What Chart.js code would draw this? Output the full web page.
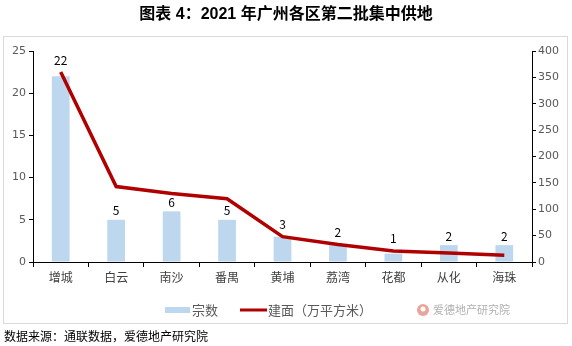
<!DOCTYPE html>
<html>
<head>
<meta charset="utf-8">
<script src="https://cdn.jsdelivr.net/npm/chart.js@4"></script>
<style>
  html, body { margin: 0; padding: 0; background: #fff; }
  #wrap { width: 572px; height: 346px; }
</style>
</head>
<body>
<div id="wrap"><canvas id="c" width="572" height="346"></canvas></div>
<script>
const districts = ['增城', '白云', '南沙', '番禺', '黄埔', '荔湾', '花都', '从化', '海珠'];
const counts = [22, 5, 6, 5, 3, 2, 1, 2, 2];
const areas = [360, 143, 130, 120, 48, 33, 21, 17, 13];

const titleText = '图表 4：2021 年广州各区第二批集中供地';
const sourceText = '数据来源：通联数据，爱德地产研究院';
const watermarkText = '爱德地产研究院';

const CJK = "'Noto Sans CJK SC', 'Noto Sans', sans-serif";

// frame, title, footnote, legend, bar labels
const decor = {
    id: 'decor',
    beforeDraw(chart) {
        const c = chart.ctx;
        c.save();
        c.fillStyle = '#fff';
        c.fillRect(0, 0, chart.width, chart.height);
        c.strokeStyle = '#d9d9d9';
        c.lineWidth = 1;
        c.strokeRect(3.5, 36.5, 564, 287);
        c.restore();
    },
    afterDraw(chart) {
        const c = chart.ctx;
        c.save();
        // title
        c.fillStyle = '#000';
        c.font = "bold 16px 'Liberation Sans', " + CJK;
        c.textAlign = 'center';
        c.textBaseline = 'middle';
        c.fillText(titleText, 286, 15);
        // source
        c.font = '12px ' + CJK;
        c.textAlign = 'left';
        c.fillText(sourceText, 4, 336);
        // legend
        c.fillStyle = '#bdd7ee';
        c.fillRect(165, 307, 25, 6);
        c.fillStyle = '#595959';
        c.font = '13px ' + CJK;
        c.fillText('宗数', 192, 310);
        c.strokeStyle = '#b00000';
        c.lineWidth = 3;
        c.beginPath();
        c.moveTo(240, 310);
        c.lineTo(267, 310);
        c.stroke();
        c.fillText('建面（万平方米）', 268, 310);
        // watermark
        c.fillStyle = '#e9a49c';
        c.beginPath();
        c.arc(423, 310, 6, 0, Math.PI * 2);
        c.fill();
        c.fillStyle = '#fff';
        c.beginPath();
        c.arc(423, 309, 2.5, 0, Math.PI * 2);
        c.fill();
        c.fillStyle = '#b0b0b0';
        c.font = '11px ' + CJK;
        c.fillText(watermarkText, 433, 310);
        // bar value labels, lifted over the line where it crosses them
        const bars = chart.getDatasetMeta(0).data;
        const pts = chart.getDatasetMeta(1).data;
        c.fillStyle = '#000';
        c.font = '12px ' + CJK;
        c.textAlign = 'center';
        bars.forEach((bar, i) => {
            let y = bar.y - 9;
            if (pts[i].y > bar.y - 15) y = Math.min(y, pts[i].y - 12);
            c.fillText(String(counts[i]), bar.x, y);
        });
        c.restore();
    }
};

new Chart(document.getElementById('c'), {
    data: {
        labels: districts,
        datasets: [
            {
                type: 'bar',
                label: '宗数',
                data: counts,
                backgroundColor: '#bdd7ee',
                barPercentage: 0.32,
                categoryPercentage: 1,
                yAxisID: 'y',
                order: 1
            },
            {
                type: 'line',
                label: '建面（万平方米）',
                data: areas,
                borderColor: '#b00000',
                borderWidth: 3.5,
                pointRadius: 0,
                tension: 0,
                yAxisID: 'y1',
                order: 0
            }
        ]
    },
    options: {
        responsive: false,
        animation: false,
        layout: { padding: { top: 51, left: 0, right: 0, bottom: 0 } },
        plugins: {
            legend: { display: false },
            tooltip: { enabled: false }
        },
        scales: {
            x: {
                grid: { drawOnChartArea: false, color: '#000', tickLength: 5, offset: true },
                border: { color: '#000', width: 1 },
                ticks: { color: '#404040', font: { size: 12, family: CJK }, padding: 3 },
                afterFit(s) { s.height = 84; }
            },
            y: {
                position: 'left',
                min: 0, max: 25,
                ticks: { stepSize: 5, color: '#595959', font: { size: 11, family: "'DejaVu Sans', sans-serif" }, padding: 3 },
                grid: { drawOnChartArea: false, color: '#000', tickLength: 4 },
                border: { color: '#000', width: 1 },
                afterFit(s) { s.width = 33; }
            },
            y1: {
                position: 'right',
                min: 0, max: 400,
                ticks: { stepSize: 50, color: '#595959', font: { size: 11, family: "'DejaVu Sans', sans-serif" }, padding: 2 },
                grid: { drawOnChartArea: false, color: '#000', tickLength: 4 },
                border: { color: '#000', width: 1 },
                afterFit(s) { s.width = 40; }
            }
        }
    },
    plugins: [decor]
});
</script>
</body>
</html>
